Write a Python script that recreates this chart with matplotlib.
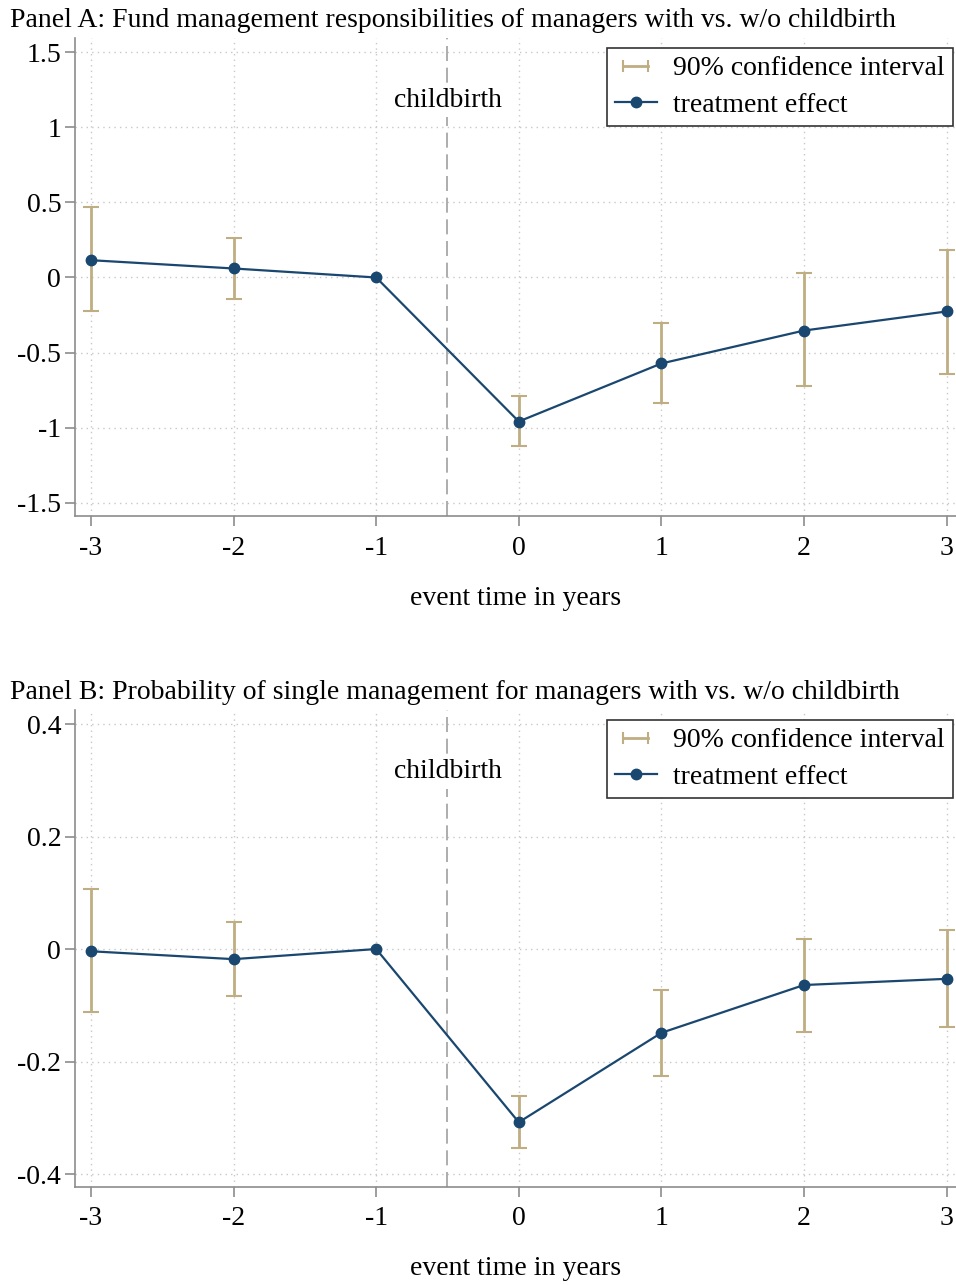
import numpy as np
import matplotlib.pyplot as plt
from matplotlib.lines import Line2D
from matplotlib.legend_handler import HandlerLine2D

plt.rcParams['font.family'] = ['Liberation Serif', 'DejaVu Serif']
plt.rcParams['axes.unicode_minus'] = False

# event time
years = [-3, -2, -1, 0, 1, 2, 3]

# Panel A: fund management responsibilities
a_est = [0.115, 0.06, 0.0, -0.958, -0.572, -0.353, -0.226]
a_lo = [-0.226, -0.146, 0.0, -1.124, -0.838, -0.725, -0.639]
a_hi = [0.466, 0.266, 0.0, -0.79, -0.306, 0.027, 0.186]

# Panel B: probability of single management
b_est = [-0.004, -0.018, 0.0, -0.308, -0.149, -0.064, -0.053]
b_lo = [-0.112, -0.084, 0.0, -0.354, -0.226, -0.148, -0.139]
b_hi = [0.107, 0.048, 0.0, -0.261, -0.073, 0.018, 0.034]

a_ticks = [-1.5, -1, -0.5, 0, 0.5, 1, 1.5]
b_ticks = [-0.4, -0.2, 0, 0.2, 0.4]

navy = '#1a476f'
sand = '#bfae82'
grid_c = '#c8c8c8'
fs = 20

fig = plt.figure(figsize=(9.56, 12.85), dpi=100)
ax_a = fig.add_axes([0.0785, 0.5984, 0.921, 0.372])
ax_b = fig.add_axes([0.0785, 0.0763, 0.921, 0.3712])


def panel(ax, est, lo, hi, yticks, ylim, title):
    est = np.array(est)
    lo = np.array(lo)
    hi = np.array(hi)
    x = np.array(years)
    ci = x != -1
    ax.errorbar(x[ci], est[ci], yerr=[est[ci] - lo[ci], hi[ci] - est[ci]], fmt='none',
                ecolor=sand, elinewidth=2, capsize=6, capthick=1.5, zorder=2)
    ax.plot(years, est, color=navy, lw=1.6, marker='o', ms=7.5, zorder=3)
    ax.axvline(-0.5, color='#a0a0a0', lw=1.2, dashes=(9, 4), zorder=1)
    ax.text(-0.5, ylim[1] - (ylim[1] - ylim[0]) * 0.13, 'childbirth', ha='center', va='center',
            fontsize=fs, bbox=dict(facecolor='white', edgecolor='none', pad=3))

    ax.set_xlim(-3.112, 3.063)
    ax.set_ylim(*ylim)
    ax.set_xticks(years)
    ax.set_xticklabels([str(v) for v in years])
    ax.set_yticks(yticks)
    ax.set_yticklabels(['%g' % v for v in yticks])
    ax.grid(True, color=grid_c, lw=1, ls=(0, (1, 3)))
    ax.set_axisbelow(True)
    for s in ['top', 'right']:
        ax.spines[s].set_visible(False)
    for s in ['left', 'bottom']:
        ax.spines[s].set_color('#8c8c8c')
        ax.spines[s].set_linewidth(1.2)
    ax.tick_params(axis='both', colors='#8c8c8c', labelcolor='black', labelsize=fs,
                   length=7, width=1.2, direction='out')
    ax.tick_params(axis='x', pad=7)
    ax.tick_params(axis='y', pad=3)
    ax.set_xlabel('event time in years', fontsize=fs, labelpad=18)
    ax.set_title(title, fontsize=fs, loc='left', x=-0.0735, y=1.024, pad=0)

    ci_h = Line2D([], [], color=sand, lw=2, marker='|', ms=8, mew=1.5)
    est_h = Line2D([], [], color=navy, lw=1.6, marker='o', ms=7.5)
    leg = ax.legend([ci_h, est_h], ['90% confidence interval', 'treatment effect'],
                    handler_map={ci_h: HandlerLine2D(numpoints=2)},
                    loc='upper right', bbox_to_anchor=(0.9975, 0.98), fontsize=fs,
                    frameon=True, fancybox=False, edgecolor='#333333', framealpha=1,
                    handlelength=1.5, handletextpad=0.6, borderpad=0.3, labelspacing=0.4,
                    borderaxespad=0)
    leg.get_frame().set_linewidth(1.2)


panel(ax_a, a_est, a_lo, a_hi, a_ticks, (-1.587, 1.593),
      'Panel A: Fund management responsibilities of managers with vs. w/o childbirth')
panel(ax_b, b_est, b_lo, b_hi, b_ticks, (-0.423, 0.425),
      'Panel B: Probability of single management for managers with vs. w/o childbirth')

fig.savefig('out.png', dpi=100)
